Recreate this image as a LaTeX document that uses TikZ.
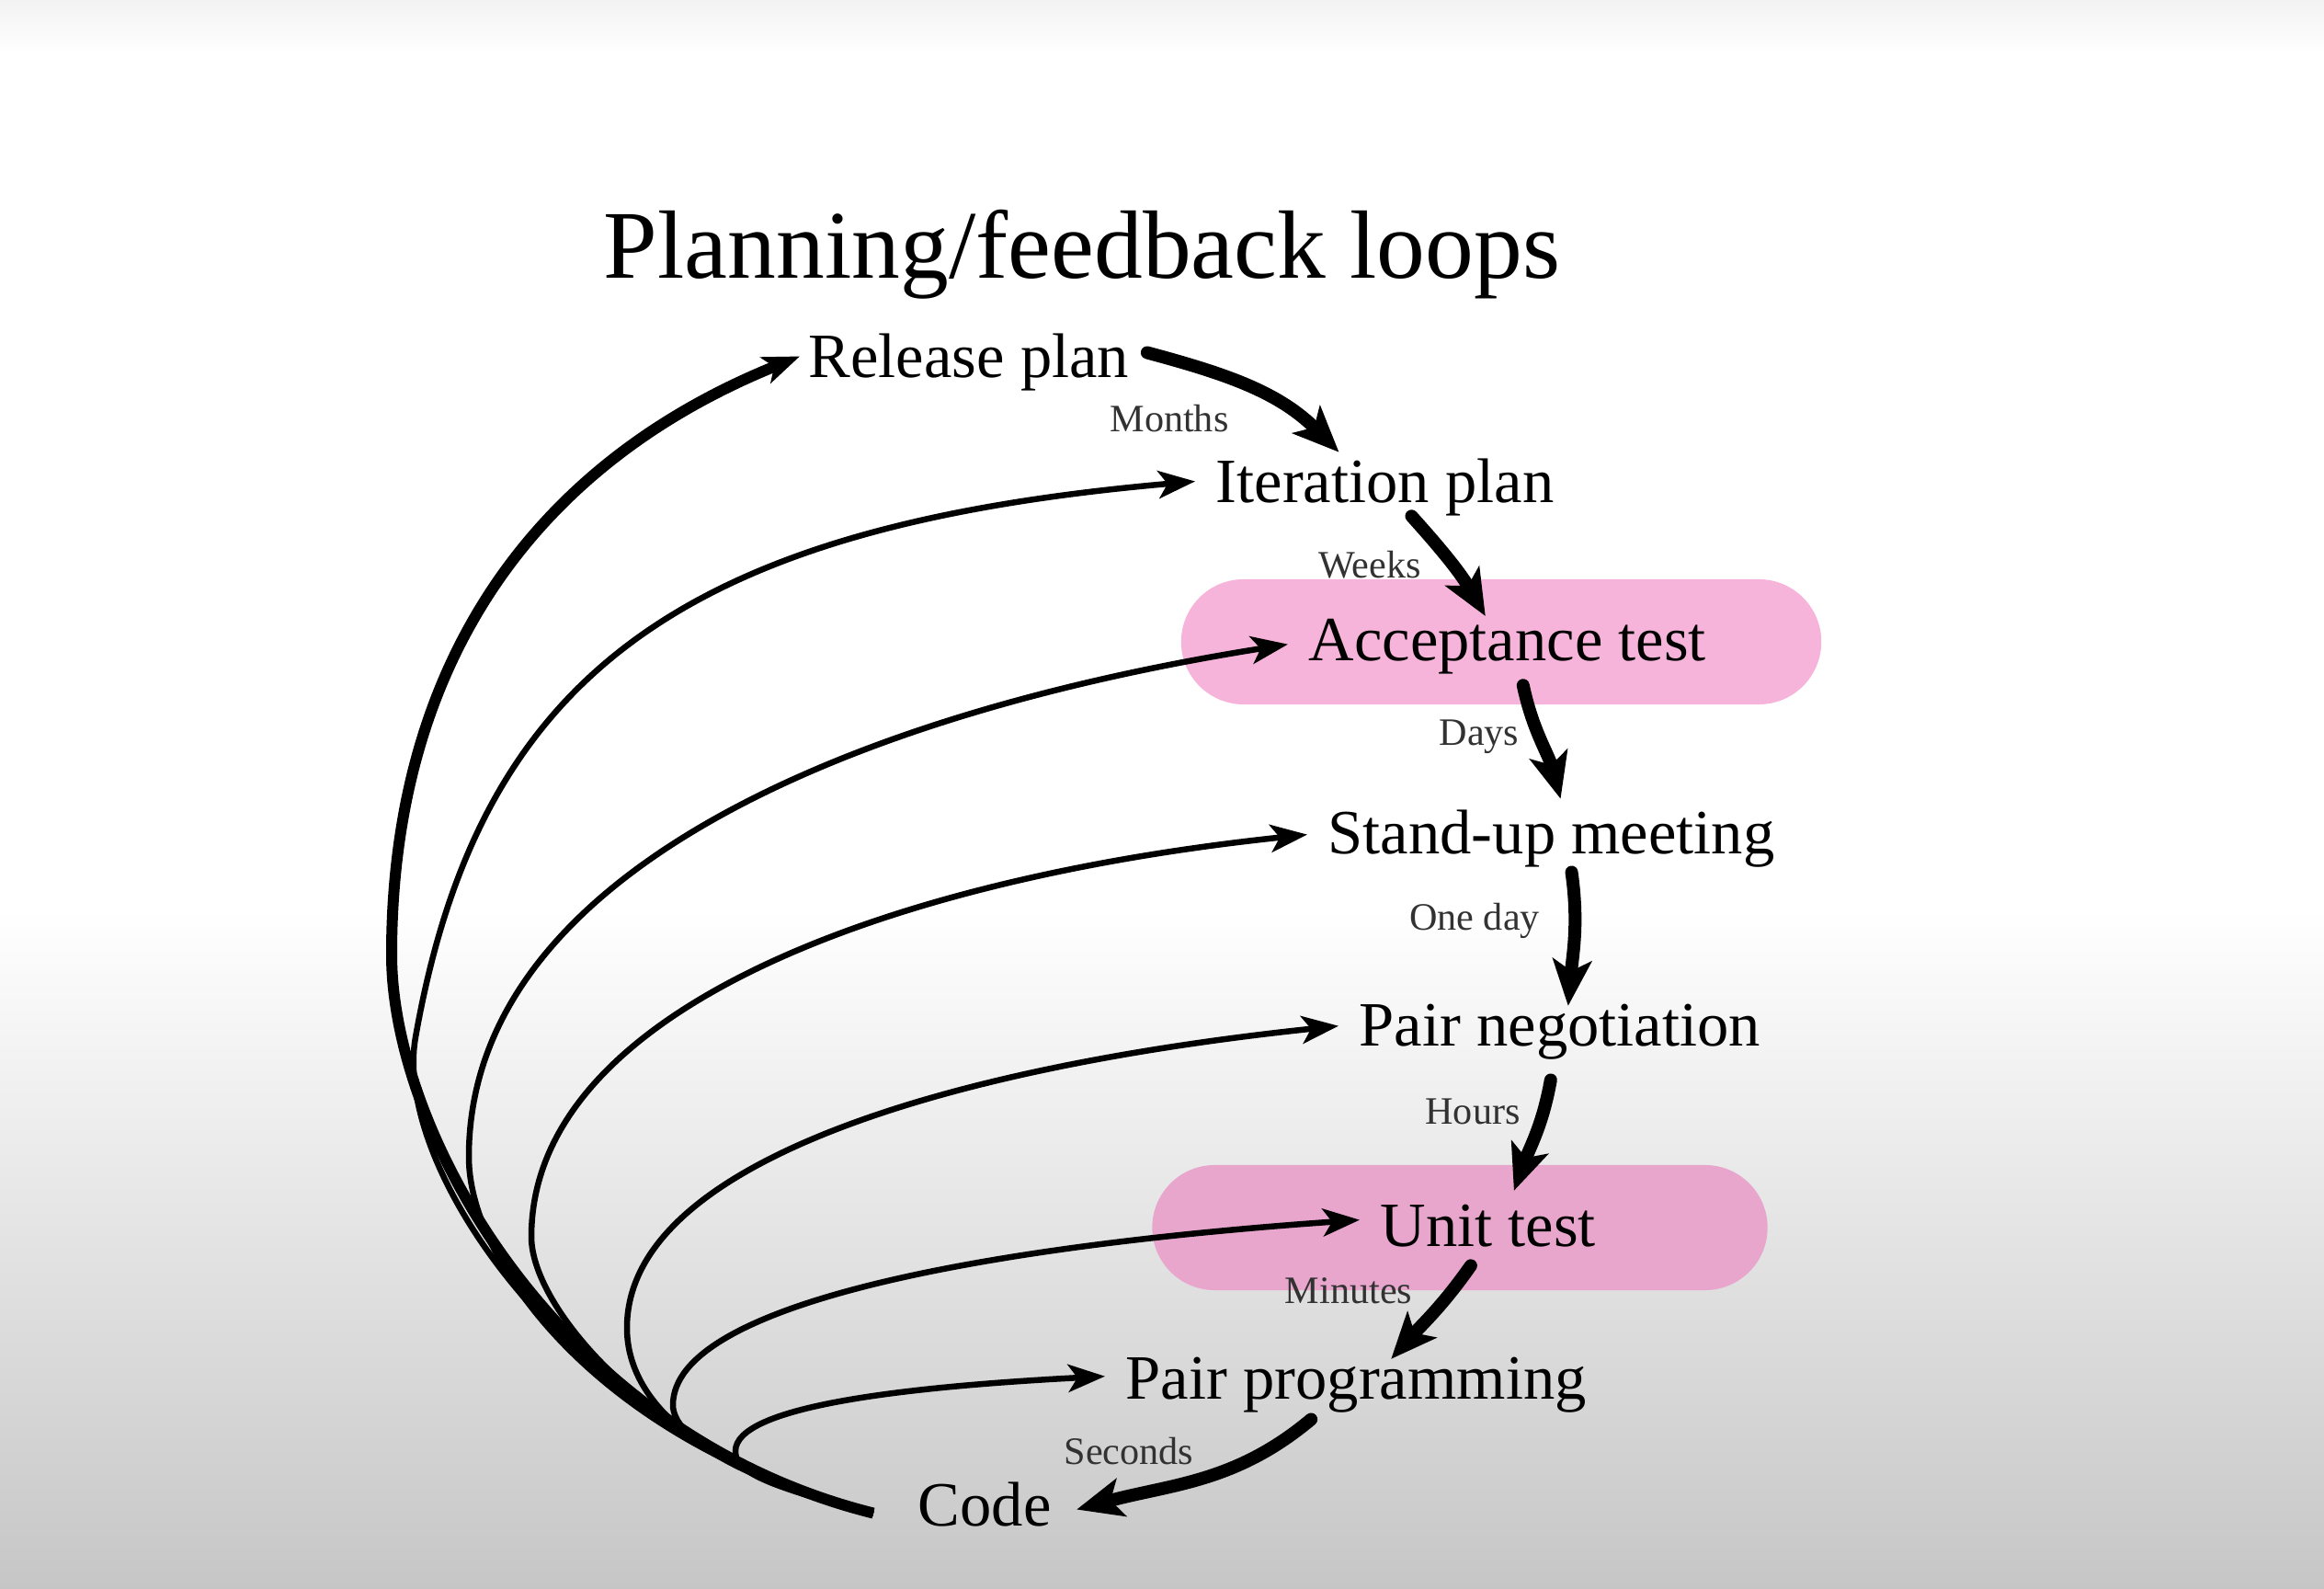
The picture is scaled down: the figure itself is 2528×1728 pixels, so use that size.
\documentclass[tikz,border=0pt]{standalone}
\usepackage{fontspec}
\setmainfont{Liberation Serif}
\usetikzlibrary{arrows.meta}

\definecolor{testpink}{RGB}{247,180,218}
\definecolor{testpinkdark}{RGB}{232,166,205}
\definecolor{bgbottom}{RGB}{198,198,198}
\definecolor{labelgray}{RGB}{50,50,50}

\tikzset{
  item/.style={inner xsep=0.22cm, inner ysep=0pt, anchor=base west, font=\fontsize{19.5}{23}\selectfont},
  span/.style={inner sep=0pt, text=labelgray, font=\fontsize{12}{14}\selectfont},
  testbox/.style={rounded corners=0.68cm, minimum width=#1, minimum height=1.36cm, inner sep=0pt},
  stepline/.style={line width=0.14cm, line cap=round, -{Stealth[length=0.5cm,width=0.42cm,inset=0.12cm]}},
  loopline/.style={line width=0.065cm, -{Stealth[length=0.4cm,width=0.3cm,inset=0.1cm]}},
}

\begin{document}
\begin{tikzpicture}[x=0.01cm, y=0.01cm]
    % background
    \fill[white] (0,0) rectangle (2528,1728);
    \shade[top color=white, bottom color=bgbottom] (0,0) rectangle (2528,740);
    \shade[top color=black!5, bottom color=white] (0,1670) rectangle (2528,1728);
    \useasboundingbox (0,0) rectangle (2528,1728);

    % highlighted tests
    \node[testbox=6.96cm, fill=testpink] (accbox) at (1633,1030) {};
    \node[testbox=6.69cm, fill=testpinkdark] (unitbox) at (1588,393) {};

    \node[font=\fontsize{30}{36}\selectfont, anchor=base, inner sep=0pt] (title) at (1177,1425) {Planning/feedback loops};

    \node[item] (rel) at (857,1317) {Release plan};
    \node[item] (iter) at (1300,1181) {Iteration plan};
    \node[item] (acc) at (1401,1009) {Acceptance test};
    \node[item] (stand) at (1422,799) {Stand-up meeting};
    \node[item] (neg) at (1456,590) {Pair negotiation};
    \node[item] (unit) at (1479,372) {Unit test};
    \node[item] (prog) at (1202,206) {Pair programming};
    \node[item] (code) at (976,68) {Code};

    \node[span] (months) at (1272,1273) {Months};
    \node[span] (weeks) at (1490,1114) {Weeks};
    \node[span] (days) at (1609,927) {Days};
    \node[span] (oneday) at (1604,727) {One day};
    \node[span] (hours) at (1602,519) {Hours};
    \node[span] (minutes) at (1467,324) {Minutes};
    \node[span] (seconds) at (1228,150) {Seconds};

    % planning chain
    \draw[stepline] ([shift={(-3,11)}]rel.east) to[out=-15,in=135] ([shift={(-50,7)}]iter.north);
    \draw[stepline] ([shift={(29,1)}]iter.south) to[out=-48,in=120] ([shift={(-24,3)}]acc.north);
    \draw[stepline] ([shift={(17,-11)}]acc.south) to[out=-78,in=105] ([shift={(10,12)}]stand.north);
    \draw[stepline] ([shift={(22,-4)}]stand.south) to[out=-82,in=85] ([shift={(9,-2)}]neg.north);
    \draw[stepline] ([shift={(-10,-21)}]neg.south) to[out=-100,in=70] ([shift={(28,15)}]unit.north);
    \draw[stepline] ([shift={(-19,-19)}]unit.south) to[out=-125,in=48] ([shift={(38,-2)}]prog.north);
    \draw[stepline] ([shift={(-49,-6)}]prog.south) to[out=-140,in=15] ([shift={(5,-5)}]code.east);

    % feedback loops, all leaving code along the same line
    \coordinate (root) at ([shift={(-26,-9)}]code.west);
    \draw[loopline, line width=0.12cm] (root) .. controls +(166:350) and +(-90:198) .. (426,690)
      .. controls +(90:317) and +(202:311) .. ([shift={(13,7)}]rel.west);
    \draw[loopline] (root) .. controls +(166:330) and +(-100:150) .. (452,600)
      .. controls +(80:400) and +(185:560) .. ([yshift=0.07cm]iter.west);
    \draw[loopline] (root) .. controls +(166:300) and +(-90:120) .. (510,470)
      .. controls +(90:306) and +(189:487) .. ([yshift=0.03cm]acc.west);
    \draw[loopline] (root) .. controls +(166:240) and +(-90:80) .. (578,383)
      .. controls +(90:245) and +(186:462) .. ([yshift=0.05cm]stand.west);
    \draw[loopline] (root) .. controls +(166:230) and +(-90:60) .. (682,284)
      .. controls +(90:180) and +(186:427) .. ([yshift=0.07cm]neg.west);
    \draw[loopline] (root) .. controls +(166:150) and +(-90:35) .. (732,200)
      .. controls +(90:110) and +(184:410) .. ([yshift=0.07cm]unit.west);
    \draw[loopline] (root) .. controls +(166:140) and +(-90:18) .. (800,150)
      .. controls +(90:48) and +(183:224) .. ([yshift=0.1cm]prog.west);
\end{tikzpicture}
\end{document}
